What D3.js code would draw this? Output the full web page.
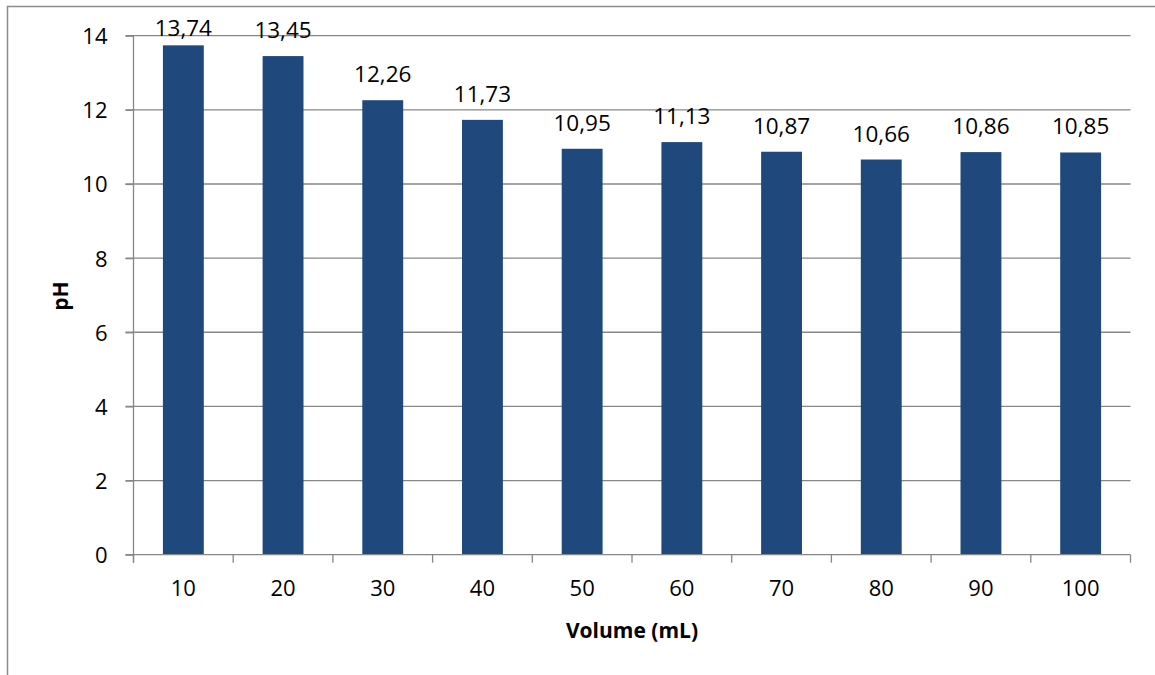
<!DOCTYPE html>
<html>
<head>
<meta charset="utf-8">
<script src="https://cdn.jsdelivr.net/npm/d3@7"></script>
<style>
  html, body { margin: 0; padding: 0; background: #fff; }
  svg text { font-family: "Open Sans", "Noto Sans", sans-serif; fill: #000; }
</style>
</head>
<body>
<svg id="chart" width="1155" height="675"></svg>
<script>
// pH measured per added volume
const volumes = ["10", "20", "30", "40", "50", "60", "70", "80", "90", "100"];
const phValues = [13.74, 13.45, 12.26, 11.73, 10.95, 11.13, 10.87, 10.66, 10.86, 10.85];
const yTicks = [0, 2, 4, 6, 8, 10, 12, 14];

const svg = d3.select("#chart");
const margin = { left: 133.5, right: 1130.5, top: 35.7, bottom: 554.7 };
const gridColor = "#878787";

// outer chart frame (only top and left edges fall inside the canvas)
svg.append("path")
  .attr("d", "M7.5,676 V6.5 H1156")
  .attr("fill", "none")
  .attr("stroke", "#8c8c8c")
  .attr("stroke-width", 1.5);

const x = d3.scaleBand().domain(volumes).range([margin.left, margin.right]).paddingInner(0.59).paddingOuter(0.295);
const y = d3.scaleLinear().domain([0, 14]).range([margin.bottom, margin.top]);

// horizontal gridlines with left tick marks
svg.append("g")
  .selectAll("line")
  .data(yTicks.filter(d => d > 0))
  .join("line")
  .attr("x1", margin.left - 8).attr("x2", margin.right)
  .attr("y1", d => y(d)).attr("y2", d => y(d))
  .attr("stroke", gridColor).attr("stroke-width", 1.3);

// bars
svg.append("g")
  .selectAll("rect")
  .data(phValues)
  .join("rect")
  .attr("x", (d, i) => x(volumes[i]))
  .attr("width", x.bandwidth())
  .attr("y", d => y(d))
  .attr("height", d => y(0) - y(d))
  .attr("fill", "#1f497d");

// value labels above bars, kept inside the chart area at the top
svg.append("g")
  .selectAll("text")
  .data(phValues)
  .join("text")
  .attr("x", (d, i) => x(volumes[i]) + x.bandwidth() / 2)
  .attr("y", d => Math.max(y(d) - 18, 36))
  .attr("text-anchor", "middle")
  .attr("font-size", 22.5)
  .text(d => d.toFixed(2).replace(".", ","));

// y axis
const yAxis = svg.append("g").attr("transform", `translate(${margin.left},0)`)
  .call(d3.axisLeft(y).tickValues(yTicks).tickSize(8).tickFormat(d3.format("d")));
yAxis.select(".domain").remove();
yAxis.selectAll(".tick line").attr("stroke", gridColor).attr("stroke-width", 1.3);
yAxis.selectAll(".tick text").attr("font-size", 22).attr("x", -26).attr("dy", "0.36em");
svg.append("line")
  .attr("x1", margin.left).attr("x2", margin.left)
  .attr("y1", margin.top).attr("y2", margin.bottom + 8)
  .attr("stroke", gridColor).attr("stroke-width", 1.3);

// x axis line, ticks at band edges
svg.append("line")
  .attr("x1", margin.left - 8).attr("x2", margin.right)
  .attr("y1", margin.bottom).attr("y2", margin.bottom)
  .attr("stroke", gridColor).attr("stroke-width", 1.3);
const step = x.step();
svg.append("g")
  .selectAll("line")
  .data(d3.range(volumes.length + 1))
  .join("line")
  .attr("x1", i => margin.left + i * step).attr("x2", i => margin.left + i * step)
  .attr("y1", margin.bottom).attr("y2", margin.bottom + 8)
  .attr("stroke", gridColor).attr("stroke-width", 1.3);
svg.append("g")
  .selectAll("text")
  .data(volumes)
  .join("text")
  .attr("x", d => x(d) + x.bandwidth() / 2)
  .attr("y", margin.bottom + 41)
  .attr("text-anchor", "middle")
  .attr("font-size", 22)
  .text(d => d);

// axis titles
svg.append("text")
  .attr("x", 632).attr("y", 638)
  .attr("text-anchor", "middle")
  .attr("font-size", 21).attr("font-weight", "bold")
  .text("Volume (mL)");
svg.append("text")
  .attr("transform", "translate(68,296) rotate(-90)")
  .attr("text-anchor", "middle")
  .attr("font-size", 21).attr("font-weight", "bold")
  .text("pH");
</script>
</body>
</html>
